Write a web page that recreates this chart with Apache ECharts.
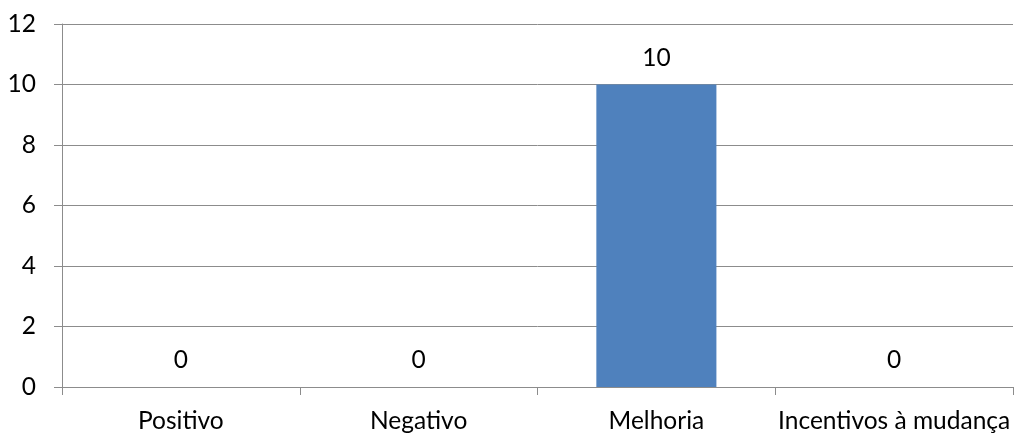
<!DOCTYPE html>
<html>
<head>
<meta charset="utf-8">
<style>
  html, body { margin: 0; padding: 0; background: #fff; }
  #chart { width: 1014px; height: 434px; }
</style>
<script src="https://cdn.jsdelivr.net/npm/echarts@6/dist/echarts.min.js"></script>
</head>
<body>
<div id="chart"></div>
<script>
// Response categories and counts
const categories = ['Positivo', 'Negativo', 'Melhoria', 'Incentivos à mudança'];
const counts = [0, 0, 10, 0];
const yTicks = [0, 2, 4, 6, 8, 10, 12];

const FONT = 'Lato, "Open Sans", sans-serif';
const FONT_SIZE = 24.5;
const GRID_COLOR = '#8c8c8c';

const chart = echarts.init(document.getElementById('chart'), null, { renderer: 'canvas' });
chart.setOption({
  animation: false,
  grid: { left: 62, right: 1, top: 24, bottom: 47, containLabel: false },
  xAxis: {
    type: 'category',
    data: categories,
    axisLine: { show: true, lineStyle: { color: GRID_COLOR, width: 1 } },
    axisTick: { show: true, alignWithLabel: false, length: 8, lineStyle: { color: GRID_COLOR } },
    axisLabel: { color: '#000', fontFamily: FONT, fontSize: FONT_SIZE, margin: 22, interval: 0 },
    splitLine: { show: false }
  },
  yAxis: {
    type: 'value',
    min: yTicks[0],
    max: yTicks[yTicks.length - 1],
    interval: 2,
    axisLine: { show: true, lineStyle: { color: GRID_COLOR, width: 1 } },
    axisTick: { show: true, length: 8, lineStyle: { color: GRID_COLOR } },
    axisLabel: { color: '#000', fontFamily: FONT, fontSize: FONT_SIZE, margin: 26 },
    splitLine: { show: true, lineStyle: { color: GRID_COLOR, width: 1 } }
  },
  series: [{
    type: 'bar',
    data: counts,
    barWidth: '50.5%',
    itemStyle: { color: '#4f81bd' },
    label: {
      show: true,
      position: 'top',
      distance: 14,
      color: '#000',
      fontFamily: FONT,
      fontSize: FONT_SIZE
    }
  }]
});
</script>
</body>
</html>
